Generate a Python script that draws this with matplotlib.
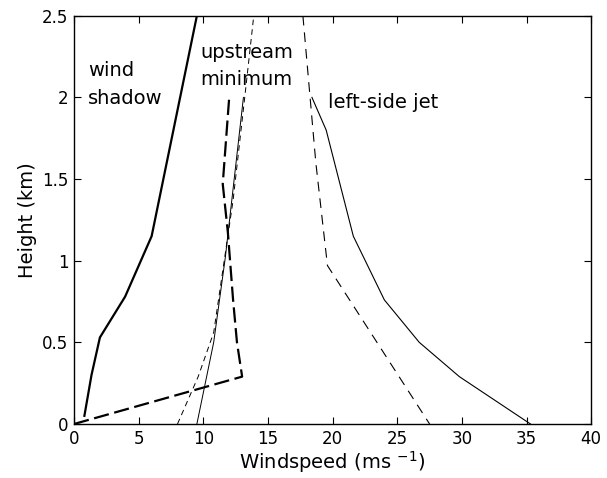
import matplotlib
matplotlib.use("Agg")
import matplotlib.pyplot as plt
from matplotlib.ticker import FuncFormatter

plt.rcParams['font.family'] = ['DejaVu Sans']
plt.rcParams['lines.scale_dashes'] = False

# wind shadow (thick solid)
shadow_x = [0.8, 1.35, 2.0, 3.95, 6.0, 9.5]
shadow_y = [0.05, 0.3, 0.53, 0.78, 1.15, 2.5]

# upstream minimum (thick dashed)
upmin_x = [0.0, 13.0, 12.6, 12.3, 11.9, 11.5, 12.0]
upmin_y = [0.0, 0.29, 0.5, 0.76, 1.17, 1.47, 2.0]

# upstream thin solid
upsol_x = [9.5, 10.8, 11.7, 12.2, 13.1]
upsol_y = [0.0, 0.5, 1.02, 1.37, 2.0]

# upstream thin dashed
updash_x = [8.0, 9.6, 10.8, 12.3, 13.2, 13.9]
updash_y = [0.0, 0.29, 0.56, 1.37, 2.0, 2.5]

# left-side jet thin solid
jet_x = [18.4, 19.5, 21.6, 24.0, 26.7, 29.8, 35.3]
jet_y = [2.0, 1.8, 1.15, 0.76, 0.5, 0.29, 0.0]

# left-side jet thin dashed
jetd_x = [17.7, 18.7, 19.6, 27.5]
jetd_y = [2.5, 1.6, 0.97, 0.0]

xticks = [0, 5, 10, 15, 20, 25, 30, 35, 40]
yticks = [0, 0.5, 1, 1.5, 2, 2.5]

fig = plt.figure(figsize=(6.07, 4.78), dpi=100)
ax = fig.add_axes([0.122, 0.113, 0.852, 0.854])

ax.plot(shadow_x, shadow_y, color='black', lw=1.6)
ax.plot(upmin_x, upmin_y, color='black', lw=1.6, linestyle=(0, (11, 4)))
ax.plot(upsol_x, upsol_y, color='black', lw=0.7)
ax.plot(updash_x, updash_y, color='black', lw=0.7, linestyle=(0, (4, 3)))
ax.plot(jet_x, jet_y, color='black', lw=0.8)
ax.plot(jetd_x, jetd_y, color='black', lw=0.8, linestyle=(0, (7, 5)))

ax.set_xlim(0, 40)
ax.set_ylim(0, 2.5)
ax.set_xticks(xticks)
ax.set_yticks(yticks)
ax.yaxis.set_major_formatter(FuncFormatter(lambda v, p: f"{v:g}"))
ax.tick_params(direction='in', top=True, right=True, length=5, width=0.8,
               labelsize=12, pad=4)
for s in ax.spines.values():
    s.set_linewidth(1.0)

ax.set_xlabel("Windspeed (ms $^{-1}$)", fontsize=14, labelpad=1)
ax.set_ylabel("Height (km)", fontsize=14, labelpad=4)

fs = 14
ax.text(1.1, 2.131, "wind", fontsize=fs, ha='left', va='baseline')
ax.text(1.05, 1.961, "shadow", fontsize=fs, ha='left', va='baseline')
ax.text(9.74, 2.241, "upstream", fontsize=fs, ha='left', va='baseline')
ax.text(9.74, 2.076, "minimum", fontsize=fs, ha='left', va='baseline')
ax.text(19.64, 1.935, "left-side jet", fontsize=fs, ha='left', va='baseline')

fig.savefig("out.png", dpi=100)
